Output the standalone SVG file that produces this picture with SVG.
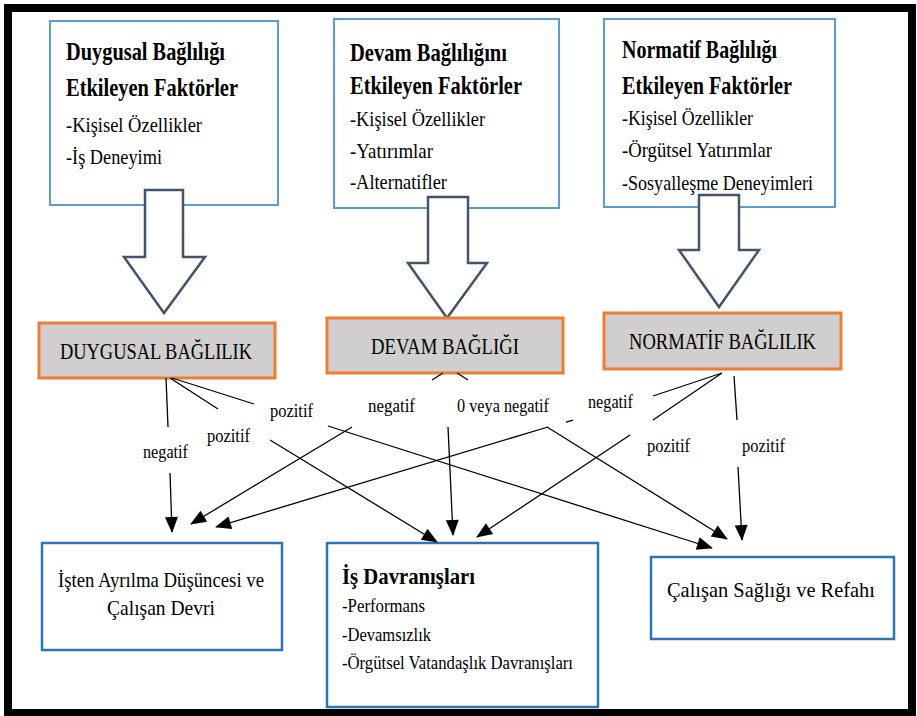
<svg xmlns="http://www.w3.org/2000/svg" width="917" height="716" viewBox="0 0 917 716">
  <style>
    .factor { fill: #ffffff; stroke: #5b9bd5; stroke-width: 2; }
    .commit { fill: #d0cece; stroke: #ed7d31; stroke-width: 3; }
    .outcome { fill: #ffffff; stroke: #2e75b6; stroke-width: 2.5; }
    .bigarrow { fill: #ffffff; stroke: #44546a; stroke-width: 2.5; stroke-linejoin: miter; }
    .conn { fill: none; stroke: #000000; stroke-width: 1.3; marker-end: url(#tip); }
    text { font-family: "Liberation Serif", "Times New Roman", serif; fill: #000000; }
    .title { font-size: 24.5px; font-weight: bold; }
    .item { font-size: 22px; }
    .cname { font-size: 24px; }
    .oname { font-size: 22px; }
    .otitle { font-size: 23px; font-weight: bold; }
    .oitem { font-size: 18px; }
    .lbl { font-size: 19px; }
  </style>
  <defs>
    <marker id="tip" markerUnits="userSpaceOnUse" markerWidth="18" markerHeight="14" viewBox="0 -7 16 14" refX="15" refY="0" orient="auto">
      <path d="M0,-6.5 L16,0 L0,6.5 z" fill="#000000"/>
    </marker>
  </defs>

  <rect x="0" y="0" width="917" height="716" fill="#ffffff"/>
  <rect x="8" y="8" width="904" height="705" fill="#ffffff" stroke="#000000" stroke-width="8"/>

  <!-- factor boxes -->
  <g id="factors-affective">
    <rect class="factor" x="50" y="21" width="228" height="184"/>
    <text class="title" x="66" y="60" textLength="159" lengthAdjust="spacingAndGlyphs">Duygusal Bağlılığı</text>
    <text class="title" x="66" y="96" textLength="172" lengthAdjust="spacingAndGlyphs">Etkileyen Faktörler</text>
    <text class="item" x="66" y="132" textLength="136" lengthAdjust="spacingAndGlyphs">-Kişisel Özellikler</text>
    <text class="item" x="66" y="164" textLength="96" lengthAdjust="spacingAndGlyphs">-İş Deneyimi</text>
  </g>
  <g id="factors-continuance">
    <rect class="factor" x="334" y="19" width="225" height="189"/>
    <text class="title" x="350" y="61" textLength="157" lengthAdjust="spacingAndGlyphs">Devam Bağlılığını</text>
    <text class="title" x="350" y="94" textLength="172" lengthAdjust="spacingAndGlyphs">Etkileyen Faktörler</text>
    <text class="item" x="350" y="126" textLength="135" lengthAdjust="spacingAndGlyphs">-Kişisel Özellikler</text>
    <text class="item" x="350" y="158" textLength="83" lengthAdjust="spacingAndGlyphs">-Yatırımlar</text>
    <text class="item" x="350" y="189" textLength="97" lengthAdjust="spacingAndGlyphs">-Alternatifler</text>
  </g>
  <g id="factors-normative">
    <rect class="factor" x="604" y="19" width="231" height="188"/>
    <text class="title" x="622" y="58" textLength="155" lengthAdjust="spacingAndGlyphs">Normatif Bağlılığı</text>
    <text class="title" x="622" y="94" textLength="170" lengthAdjust="spacingAndGlyphs">Etkileyen Faktörler</text>
    <text class="item" x="622" y="125" textLength="131" lengthAdjust="spacingAndGlyphs">-Kişisel Özellikler</text>
    <text class="item" x="622" y="157" textLength="150" lengthAdjust="spacingAndGlyphs">-Örgütsel Yatırımlar</text>
    <text class="item" x="622" y="190" textLength="191" lengthAdjust="spacingAndGlyphs">-Sosyalleşme Deneyimleri</text>
  </g>

  <!-- hollow block arrows from factors to commitment types -->
  <g id="block-arrows">
    <path class="bigarrow" d="M145,190 L183,190 L183,257 L205,257 L164,313 L124,257 L145,257 Z"/>
    <path class="bigarrow" d="M428,197 L468,197 L468,263 L487,263 L447,318 L408,263 L428,263 Z"/>
    <path class="bigarrow" d="M699,195 L739,195 L739,250 L759,250 L719,307 L679,250 L699,250 Z"/>
  </g>

  <!-- commitment types -->
  <g id="affective">
    <rect class="commit" x="39" y="323" width="236" height="55"/>
    <text class="cname" x="60" y="359" textLength="192" lengthAdjust="spacingAndGlyphs">DUYGUSAL BAĞLILIK</text>
  </g>
  <g id="continuance">
    <rect class="commit" x="327" y="318" width="236" height="55"/>
    <text class="cname" x="371" y="354" textLength="148" lengthAdjust="spacingAndGlyphs">DEVAM BAĞLIĞI</text>
  </g>
  <g id="normative">
    <rect class="commit" x="604" y="313" width="237" height="56"/>
    <text class="cname" x="629" y="349" textLength="187" lengthAdjust="spacingAndGlyphs">NORMATİF BAĞLILIK</text>
  </g>

  <!-- outcomes -->
  <g id="turnover">
    <rect class="outcome" x="42" y="543" width="240" height="107"/>
    <text class="oname" x="58" y="587" textLength="206" lengthAdjust="spacingAndGlyphs">İşten Ayrılma Düşüncesi ve</text>
    <text class="oname" x="107" y="615" textLength="108" lengthAdjust="spacingAndGlyphs">Çalışan Devri</text>
  </g>
  <g id="behaviour">
    <rect class="outcome" x="327" y="543" width="271" height="164"/>
    <text class="otitle" x="342" y="584" textLength="133" lengthAdjust="spacingAndGlyphs">İş Davranışları</text>
    <text class="oitem" x="342" y="612" textLength="83" lengthAdjust="spacingAndGlyphs">-Performans</text>
    <text class="oitem" x="342" y="641" textLength="89" lengthAdjust="spacingAndGlyphs">-Devamsızlık</text>
    <text class="oitem" x="342" y="669" textLength="231" lengthAdjust="spacingAndGlyphs">-Örgütsel Vatandaşlık Davranışları</text>
  </g>
  <g id="wellbeing">
    <rect class="outcome" x="651" y="557" width="243" height="82"/>
    <text class="oname" x="667" y="597" textLength="208" lengthAdjust="spacingAndGlyphs">Çalışan Sağlığı ve Refahı</text>
  </g>

  <!-- relations; each line is broken where its label sits -->
  <g id="connectors">
    <path class="conn" d="M166,378 L168,427 M170,473 L172,532"/>
    <path class="conn" d="M170,378 L218,409 M270,440 L437,542"/>
    <path class="conn" d="M172,378 L254,404 M328,426 L712,548"/>
    <path class="conn" d="M443,373 L432,380 M352,427 L191,524"/>
    <path class="conn" d="M448,427 L453,535"/>
    <path class="conn" d="M457,373 L468,380 M547,427 L727,539"/>
    <path class="conn" d="M722,373 L653,396 M573,420 L566,422 M548,427 L216,527"/>
    <path class="conn" d="M722,373 L653,420 M630,435 L477,537"/>
    <path class="conn" d="M734,376 L737,420 M738,467 L742,540"/>
  </g>
  <g id="labels">
    <text class="lbl" x="143" y="458" textLength="45" lengthAdjust="spacingAndGlyphs">negatif</text>
    <text class="lbl" x="207" y="442" textLength="43" lengthAdjust="spacingAndGlyphs">pozitif</text>
    <text class="lbl" x="270" y="417" textLength="43" lengthAdjust="spacingAndGlyphs">pozitif</text>
    <text class="lbl" x="368" y="412" textLength="47" lengthAdjust="spacingAndGlyphs">negatif</text>
    <text class="lbl" x="457" y="412" textLength="92" lengthAdjust="spacingAndGlyphs">0 veya negatif</text>
    <text class="lbl" x="588" y="408" textLength="45" lengthAdjust="spacingAndGlyphs">negatif</text>
    <text class="lbl" x="647" y="452" textLength="43" lengthAdjust="spacingAndGlyphs">pozitif</text>
    <text class="lbl" x="742" y="452" textLength="43" lengthAdjust="spacingAndGlyphs">pozitif</text>
  </g>
</svg>
